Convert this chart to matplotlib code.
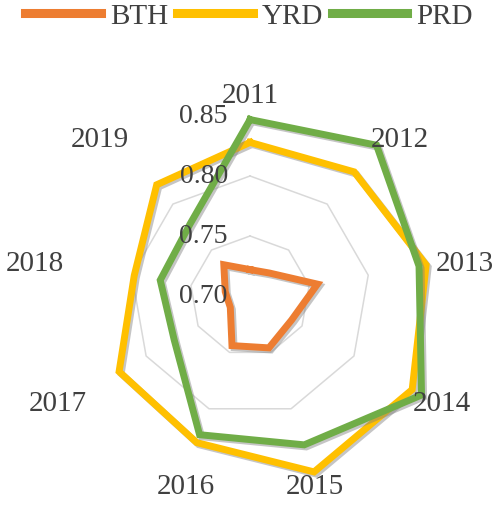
#radar chart of the three regions 2011-2019
import numpy as np
import matplotlib.pyplot as plt
import matplotlib.patheffects as pe

years = ['2011', '2012', '2013', '2014', '2015', '2016', '2017', '2018', '2019']
bth = [0.722, 0.725, 0.757, 0.740, 0.746, 0.744, 0.719, 0.721, 0.734]
yrd = [0.828, 0.835, 0.849, 0.856, 0.856, 0.830, 0.826, 0.798, 0.821]
prd = [0.847, 0.864, 0.843, 0.865, 0.832, 0.823, 0.773, 0.776, 0.778]
rings = [0.75, 0.80]
ring_labels = [0.70, 0.75, 0.80, 0.85]

plt.rcParams['font.family'] = ['Liberation Serif', 'DejaVu Serif']
txt = '#404040'

fig = plt.figure(figsize=(4.98, 5.06), dpi=100)
ax = fig.add_axes([0.1406, 0.0573, 0.723, 0.7115], projection='polar')
ax.set_theta_zero_location('N')
ax.set_theta_direction(-1)
ax.set_ylim(0.70, 0.85)
ax.grid(False)
ax.spines['polar'].set_visible(False)
ax.set_xticks([])
ax.set_yticks([])
ax.patch.set_alpha(0)

n = len(years)
th = np.linspace(0, 2 * np.pi, n, endpoint=False)
thc = np.append(th, th[0])

#----- polygon gridlines -----
for r in rings:
    ax.plot(thc, [r] * (n + 1), color='#d9d9d9', lw=1.1, zorder=1)

#----- series -----
shadow = [pe.SimpleLineShadow(offset=(1.5, -1.5), shadow_color='#808080', alpha=0.45),
          pe.Normal()]
series = [('BTH', bth, '#ed7d31'), ('YRD', yrd, '#ffc000'), ('PRD', prd, '#70ad47')]
handles = []
for name, vals, col in series:
    v = vals + vals[:1]
    h, = ax.plot(thc, v, color=col, lw=5, solid_joinstyle='miter',
                 clip_on=False, zorder=3, path_effects=shadow, label=name)
    handles.append(h)

#----- category labels -----
R = 0.857
for t, lab in zip(th, years):
    s, c = np.sin(t), np.cos(t)
    ha = 'center' if abs(s) < 0.5 else ('left' if s > 0 else 'right')
    va = 'center' if abs(c) < 0.3 else ('bottom' if c > 0 else 'top')
    ax.text(t, R, lab, ha=ha, va=va, fontsize=21, color=txt, clip_on=False)

#----- radial labels -----
for r in ring_labels:
    ax.annotate('%.2f' % r, xy=(0, r), xytext=(-16, 0), textcoords='offset points',
                ha='right', va='center', fontsize=20, color=txt, annotation_clip=False)

leg = fig.legend(handles=[plt.Line2D([], [], color=col, lw=6.5) for _, _, col in series],
                 labels=[s[0] for s in series], loc='center', bbox_to_anchor=(0.5, 0.966),
                 ncol=3, frameon=False, fontsize=21, handlelength=2.6,
                 handletextpad=0.3, columnspacing=0.3, borderaxespad=0)
for t in leg.get_texts():
    t.set_color(txt)

plt.savefig('out.png', dpi=100)
